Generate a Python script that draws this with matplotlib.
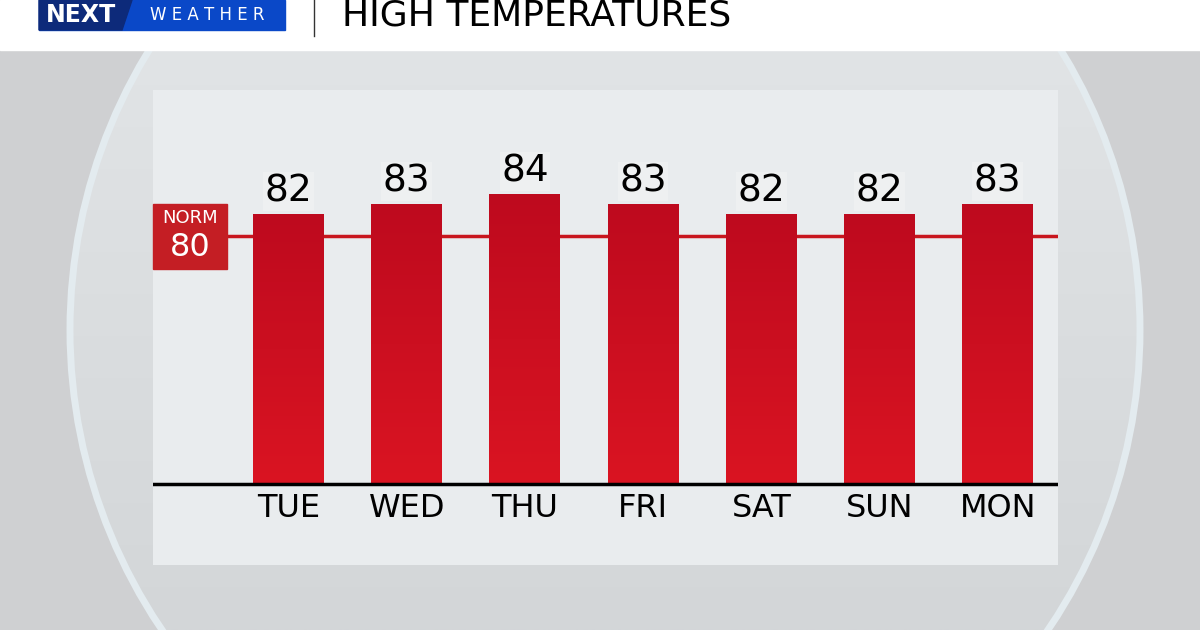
import numpy as np
import matplotlib
matplotlib.use("Agg")
import matplotlib.pyplot as plt
from matplotlib.patches import Rectangle, Circle, Polygon

days = ["TUE", "WED", "THU", "FRI", "SAT", "SUN", "MON"]
highs = [82, 83, 84, 83, 82, 82, 83]
normal = 80
title = "HIGH TEMPERATURES"

W, H = 1200, 630
fig = plt.figure(figsize=(W / 100, H / 100), dpi=100)
plt.rcParams['font.family'] = ['DejaVu Sans']

# background axes in pixel coordinates
bg = fig.add_axes([0, 0, 1, 1])
bg.set_xlim(0, W)
bg.set_ylim(H, 0)
bg.axis("off")
bg.add_patch(Rectangle((0, 0), W, H, color="#cfd0d2", zorder=0))
grad = np.linspace(0, 1, 256).reshape(-1, 1)
im = bg.imshow(np.hstack([grad, grad]), extent=(0, W, H, 0), aspect="auto",
               cmap=matplotlib.colors.LinearSegmentedColormap.from_list("g", ["#e2e5e7", "#d3d6d8"]),
               zorder=1)
circ = Circle((605, 330), 535, facecolor="none", edgecolor="none")
bg.add_patch(circ)
im.set_clip_path(circ)
bg.add_patch(Circle((605, 330), 535, facecolor="none", edgecolor="#e3ebef", lw=5, zorder=2))
# header
bg.add_patch(Rectangle((0, 0), W, 50, color="white", zorder=3))
bg.add_patch(Rectangle((39, 0), 246, 30, color="#0a48c8", zorder=4))
bg.add_patch(Polygon([(39, 0), (132, 0), (122, 30), (39, 30)], closed=True, color="#0d2a7a", zorder=4))
bg.text(46, 15, "NEXT", color="white", fontsize=17, fontweight="bold", va="center", ha="left", zorder=5)
bg.text(150, 15, "W E A T H E R", color="white", fontsize=12, va="center", ha="left", zorder=5)
bg.plot([314, 314], [0, 36], color="#333333", lw=1, zorder=4)
bg.text(342, 15, title, color="black", fontsize=26, va="center", ha="left", zorder=5)

# chart axes (panel)
x0, x1, y0, y1 = 153, 1058, 90, 565
ax = fig.add_axes([x0 / W, 1 - y1 / H, (x1 - x0) / W, (y1 - y0) / H])
ax.set_facecolor("#e9ecee")
spacing = 118.2
base = 55
xs = np.arange(len(days))
bw = 0.6
cmap = matplotlib.colors.LinearSegmentedColormap.from_list("r", ["#da1422", "#be0a1e"])
ax.axhline(normal - 0.2, color="#c8161e", lw=2.5, zorder=1)
for x, v, d in zip(xs, highs, days):
    r = Rectangle((x - bw / 2, base), bw, v - base, facecolor="none", edgecolor="none")
    ax.add_patch(r)
    g = ax.imshow(np.linspace(0, 1, 128).reshape(-1, 1), extent=(x - bw / 2, x + bw / 2, base, v),
                  origin="lower", aspect="auto", cmap=cmap, zorder=2)
    g.set_clip_path(r)
    ax.text(x, v + 0.5, str(v), ha="center", va="bottom", fontsize=27, color="black", zorder=3,
            bbox=dict(facecolor="#eef0f1", edgecolor="none", pad=1))
    ax.text(x, base - 0.9, d, ha="center", va="top", fontsize=23, color="black", zorder=3)
ax.axhline(base, color="black", lw=2.5, zorder=4)
for s in ax.spines.values():
    s.set_visible(False)
ax.set_xticks([])
ax.set_yticks([])
ax.set_aspect("auto")
ax.set_xlim(-(288.5 - x0) / spacing, (x1 - 288.5) / spacing)
ax.set_ylim(82 - (y1 - 214) / 10, 82 + (214 - y0) / 10)

# NORM box overlay
ov = fig.add_axes([0, 0, 1, 1])
ov.set_xlim(0, W)
ov.set_ylim(H, 0)
ov.axis("off")
ov.patch.set_alpha(0)
ov.add_patch(Rectangle((153, 204), 74, 65, color="#c41e24", zorder=6))
ov.text(190, 218, "NORM", color="white", fontsize=13, ha="center", va="center", zorder=7)
ov.text(190, 248, str(normal), color="white", fontsize=23, ha="center", va="center", zorder=7)

fig.savefig("out.png", dpi=100)
